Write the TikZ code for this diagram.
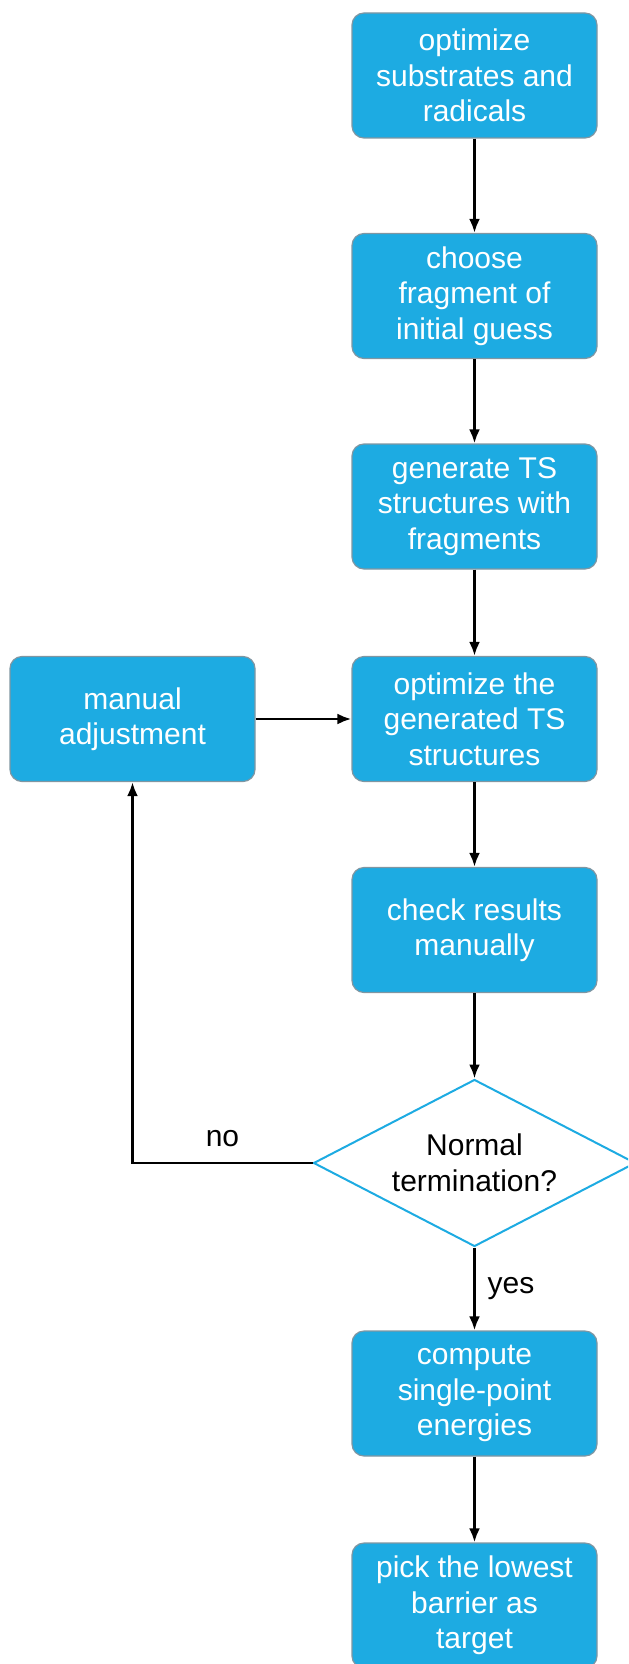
\documentclass[tikz,border=0pt]{standalone}
\usepackage{fontspec}
\setmainfont{Liberation Sans}
\usepackage{xcolor}
\usetikzlibrary{positioning,arrows.meta,shapes.geometric}

\definecolor{stepblue}{RGB}{29,171,226}
\definecolor{stepedge}{RGB}{128,150,162}

\begin{document}
\begin{tikzpicture}[
    x=0.5pt, y=0.5pt,
    font=\fontsize{15}{17.75}\selectfont,
    process/.style={
        rectangle,
        rounded corners=6pt,
        draw=stepedge,
        fill=stepblue,
        line width=0.6pt,
        text=white,
        align=center,
        minimum width=122.5pt,
        minimum height=62.5pt,
        inner sep=2pt
    },
    decision/.style={
        diamond,
        draw=stepblue,
        fill=white,
        line width=1pt,
        align=center,
        aspect=1.93,
        inner sep=0pt,
        minimum width=161pt,
        minimum height=83.5pt
    },
    arrow/.style={
        -{Latex[length=7pt,width=5.5pt]},
        line width=1.4pt,
        draw=black
    }
]

\path[use as bounding box, clip] (0,0) rectangle (628,-1664);

% Main column
\node[process] (optimize) at (474.5,-75.5) {optimize\\substrates and\\radicals};
\node[process] (choose) at (474.5,-296) {choose\\fragment of\\initial guess};
\node[process] (generate) at (474.5,-506.5) {generate TS\\structures with\\fragments};
\node[process] (optts) at (474.5,-719) {optimize the\\generated TS\\structures};
\node[process] (check) at (474.5,-930) {check results\\manually};
\node[decision] (normal) at (474.5,-1163) {Normal\\termination?};
\node[process] (energy) at (474.5,-1393.5) {compute\\single-point\\energies};
\node[process] (pick) at (474.5,-1605.5) {pick the lowest\\barrier as\\target};

% Side branch
\node[process] (manual) at (132.5,-719) {manual\\adjustment};

% Arrows
\draw[arrow] (optimize) -- (choose);
\draw[arrow] (choose) -- (generate);
\draw[arrow] (generate) -- (optts);
\draw[arrow] (optts) -- (check);
\draw[arrow] (check) -- (normal);
\draw[arrow] (normal) -- node[right=2.5pt] (yes) {yes} (energy);
\draw[arrow] (energy) -- (pick);
\draw[arrow] (normal.west) -| node[pos=0.25, above=4pt] (no) {no} (manual.south);
\draw[arrow] (manual) -- (optts);

\end{tikzpicture}
\end{document}
